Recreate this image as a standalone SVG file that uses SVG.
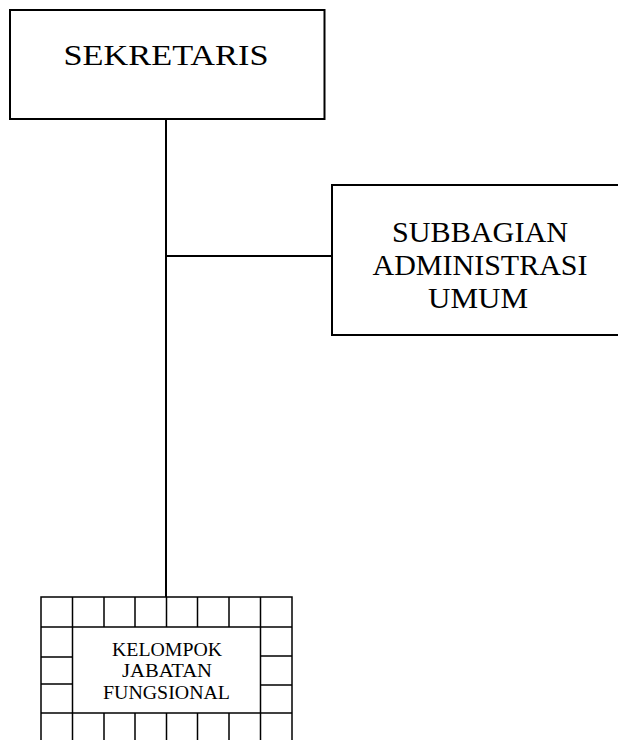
<svg xmlns="http://www.w3.org/2000/svg" width="618" height="740" viewBox="0 0 618 740">
<style>
.box{fill:#fff;stroke:#000;stroke-width:2}
.grid{fill:none;stroke:#000;stroke-width:1.5}
.conn{stroke:#000;stroke-width:2;fill:none}
.big{font-family:"Liberation Serif","Times New Roman",serif;font-size:29px;fill:#000;text-anchor:middle}
.small{font-family:"Liberation Serif","Times New Roman",serif;font-size:18px;fill:#000;text-anchor:middle}
</style>
<rect width="618" height="740" fill="#fff"/>
<g id="connectors">
<line class="conn" x1="166" y1="119" x2="166" y2="597"/>
<line class="conn" x1="166" y1="256" x2="332" y2="256"/>
</g>
<g id="sekretaris">
<rect class="box" x="10" y="10" width="314.5" height="109"/>
<text class="big" x="166" y="65" textLength="205" lengthAdjust="spacingAndGlyphs">SEKRETARIS</text>
</g>
<g id="subbagian">
<rect class="box" x="332" y="185" width="300" height="150"/>
<text class="big" x="480" y="241.5" textLength="176" lengthAdjust="spacingAndGlyphs">SUBBAGIAN</text>
<text class="big" x="480" y="274.5" textLength="215" lengthAdjust="spacingAndGlyphs">ADMINISTRASI</text>
<text class="big" x="478" y="307.5" textLength="100" lengthAdjust="spacingAndGlyphs">UMUM</text>
</g>
<g id="kelompok">
<rect class="grid" x="41" y="597" width="251" height="160"/>
<line class="grid" x1="41" y1="627" x2="292" y2="627"/>
<line class="grid" x1="41" y1="713" x2="292" y2="713"/>
<path class="grid" d="M72.5 597V627M104 597V627M135 597V627M166.5 597V627M197.5 597V627M229 597V627M260.5 597V627"/>
<path class="grid" d="M72.5 713V745M104 713V745M135 713V745M166.5 713V745M197.5 713V745M229 713V745M260.5 713V745"/>
<path class="grid" d="M72.5 627V713M260.5 627V713M41 657H72.5M41 684H72.5M260.5 656H292M260.5 685H292"/>
<text class="small" x="167" y="656" textLength="110" lengthAdjust="spacingAndGlyphs">KELOMPOK</text>
<text class="small" x="167" y="677" textLength="90" lengthAdjust="spacingAndGlyphs">JABATAN</text>
<text class="small" x="166.5" y="699" textLength="127" lengthAdjust="spacingAndGlyphs">FUNGSIONAL</text>
</g>
</svg>
